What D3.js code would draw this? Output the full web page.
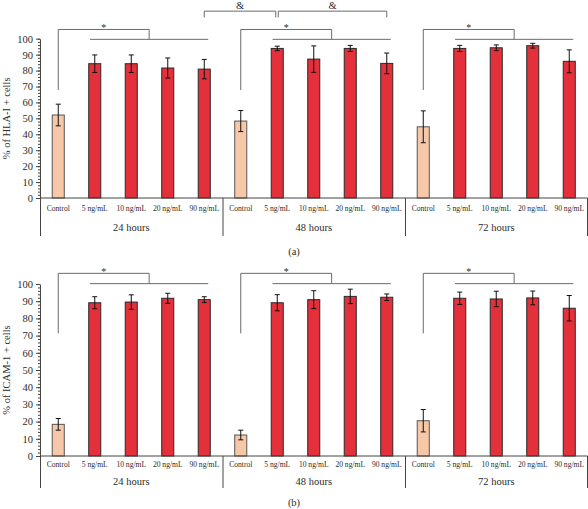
<!DOCTYPE html>
<html>
<head>
<meta charset="utf-8">
<script src="https://cdn.jsdelivr.net/npm/d3@7"></script>
<style>
  html, body { margin: 0; padding: 0; background: #fff; }
  svg { display: block; }
  text { font-family: "Liberation Serif", "DejaVu Serif", serif; fill: #2b2b2b; }
</style>
</head>
<body>
<svg id="chart" width="588" height="509"></svg>
<script>
// ---------------- data ----------------
const groups = ["24 hours", "48 hours", "72 hours"];
const doses = ["Control", "5 ng/mL", "10 ng/mL", "20 ng/mL", "90 ng/mL"];
const yTicks = [0, 10, 20, 30, 40, 50, 60, 70, 80, 90, 100];

const hlaMeans  = [52.1, 84.3, 84.3, 81.6, 80.9,  48.3, 93.9, 87.2, 93.9, 84.5,  44.7, 93.9, 94.3, 95.6, 85.8];
const hlaErrors = [ 6.8,  5.5,  5.5,  6.3,  6.1,   6.6,  1.4,  8.3,  1.9,  6.5,  10.0,  1.9,  1.8,  1.5,  7.2];

const icamMeans  = [18.4, 89.1, 89.5, 91.7, 90.9,  12.2, 89.1, 90.9, 92.8, 92.3,  20.5, 91.7, 91.3, 91.9, 85.9];
const icamErrors = [ 3.4,  3.5,  4.2,  2.9,  1.7,   2.8,  4.7,  5.2,  4.2,  1.9,   6.5,  3.6,  4.5,  4.0,  7.4];

const hlaLabel = "% of HLA-I + cells";
const icamLabel = "% of ICAM-1 + cells";

// ---------------- drawing ----------------
const svg = d3.select("#chart");
const keys = [];
groups.forEach(g => doses.forEach(d => keys.push(g + "|" + d)));

const x = d3.scaleBand().domain(keys).range([40, 587.5]).padding(0);
const bw = x.bandwidth() * 0.33;
const cx = i => x(keys[i]) + x.bandwidth() / 2;

const RED = "#e3303a", PEACH = "#f7c8a8", GRAY = "#6a6a6a";

function panel(opt) {
  const y = d3.scaleLinear().domain([0, 100]).range([opt.y0, opt.y100]);
  const g = svg.append("g");

  // minor ticks
  const minor = g.append("g").attr("transform", "translate(40,0)")
    .call(d3.axisLeft(y).tickValues(d3.range(0, 101, 2)).tickSize(2).tickFormat(""));
  minor.select(".domain").remove();
  minor.selectAll("line").attr("stroke", "#444");

  // major axis
  const ax = g.append("g").attr("transform", "translate(40,0)")
    .call(d3.axisLeft(y).tickValues(yTicks).tickSize(4).tickPadding(3).tickSizeOuter(0));
  ax.select(".domain").attr("stroke", "#444");
  ax.selectAll("line").attr("stroke", "#444");
  ax.selectAll("text").style("font-family", "Liberation Serif, serif").style("font-size", "10.5px").attr("fill", "#2b2b2b");

  // y label
  g.append("text")
    .attr("transform", `translate(10,${(opt.y0 + opt.y100) / 2}) rotate(-90)`)
    .attr("text-anchor", "middle")
    .style("font-size", "10.5px")
    .text(opt.label);

  // bars
  g.selectAll("rect.bar").data(opt.means).join("rect")
    .attr("x", (d, i) => cx(i) - bw / 2)
    .attr("y", d => y(d))
    .attr("width", bw)
    .attr("height", d => y(0) - y(d))
    .attr("fill", (d, i) => i % 5 === 0 ? PEACH : RED)
    .attr("stroke", (d, i) => i % 5 === 0 ? "#555" : "#2a2a2a")
    .attr("stroke-width", 1);

  // error bars
  const eb = g.append("g").attr("stroke", "#111").attr("stroke-width", 1);
  opt.means.forEach((m, i) => {
    const e = opt.errors[i];
    eb.append("line").attr("x1", cx(i)).attr("x2", cx(i)).attr("y1", y(m + e)).attr("y2", y(m - e));
    eb.append("line").attr("x1", cx(i) - 2.5).attr("x2", cx(i) + 2.5).attr("y1", y(m + e)).attr("y2", y(m + e));
    eb.append("line").attr("x1", cx(i) - 2.5).attr("x2", cx(i) + 2.5).attr("y1", y(m - e)).attr("y2", y(m - e));
  });

  // x axis line
  g.append("line").attr("x1", 40).attr("x2", 587.5).attr("y1", y(0)).attr("y2", y(0)).attr("stroke", "#444");

  // separators
  [0, 5, 10].forEach(i => {
    g.append("line").attr("x1", x(keys[i]) + 0.5).attr("x2", x(keys[i]) + 0.5)
      .attr("y1", y(0)).attr("y2", y(0) + opt.sepLen).attr("stroke", "#444");
  });
  g.append("line").attr("x1", 587.5).attr("x2", 587.5)
    .attr("y1", y(0)).attr("y2", y(0) + opt.sepLen).attr("stroke", "#444");

  // category labels
  keys.forEach((k, i) => {
    g.append("text").attr("x", cx(i)).attr("y", y(0) + opt.catOff)
      .attr("text-anchor", "middle").style("font-size", "7.6px")
      .text(doses[i % 5]);
  });
  // group labels
  groups.forEach((gr, j) => {
    const xm = (x(keys[j * 5]) + x(keys[j * 5 + 4]) + x.bandwidth()) / 2;
    g.append("text").attr("x", xm).attr("y", y(0) + opt.grpOff)
      .attr("text-anchor", "middle").style("font-size", "10.5px").text(gr);
  });
  // panel letter
  g.append("text").attr("x", 294).attr("y", opt.letterY).attr("text-anchor", "middle")
    .style("font-size", "10.5px").text(opt.letter);

  // significance brackets (*)
  const br = g.append("g").attr("stroke", GRAY).attr("fill", "none").attr("stroke-width", 1);
  [0, 1, 2].forEach(j => {
    const c = cx(j * 5);
    const l = cx(j * 5 + 1) - 4.7;
    const r = cx(j * 5 + 4) + 4;
    const m = (l + r) / 2;
    const yt = y(opt.sigTop), yl = y(opt.sigLow), ys = y(opt.sigStart);
    br.append("path").attr("d", `M${c},${ys}V${yt}H${m}V${yl}`);
    br.append("line").attr("x1", l).attr("x2", r).attr("y1", yl).attr("y2", yl);
    g.append("text").attr("x", (c + m) / 2).attr("y", yt + 1.5).attr("text-anchor", "middle")
      .style("font-size", "10px").attr("fill", GRAY).text("*");
  });

  // & brackets
  if (opt.amp) {
    const ya = y(opt.ampTop), yb = y(opt.ampBot);
    const spans = [[cx(4), cx(6) - 1.5], [cx(6) + 1, cx(9)]];
    spans.forEach(([a, b]) => {
      br.append("path").attr("d", `M${a},${yb}V${ya}H${b}V${yb}`);
      g.append("text").attr("x", (a + b) / 2).attr("y", ya - 2.5).attr("text-anchor", "middle")
        .style("font-size", "10.5px").text("&");
    });
  }
}

panel({
  y0: 198, y100: 38.7, label: hlaLabel, means: hlaMeans, errors: hlaErrors,
  sepLen: 38, catOff: 12.5, grpOff: 33, letter: "(a)", letterY: 255,
  sigTop: 105.8, sigLow: 99.6, sigStart: 67.8, amp: true, ampTop: 117.3, ampBot: 113.4
});
panel({
  y0: 456, y100: 284, label: icamLabel, means: icamMeans, errors: icamErrors,
  sepLen: 32, catOff: 11, grpOff: 28.5, letter: "(b)", letterY: 506,
  sigTop: 106.2, sigLow: 100.2, sigStart: 71.3, amp: false
});
</script>
</body>
</html>
